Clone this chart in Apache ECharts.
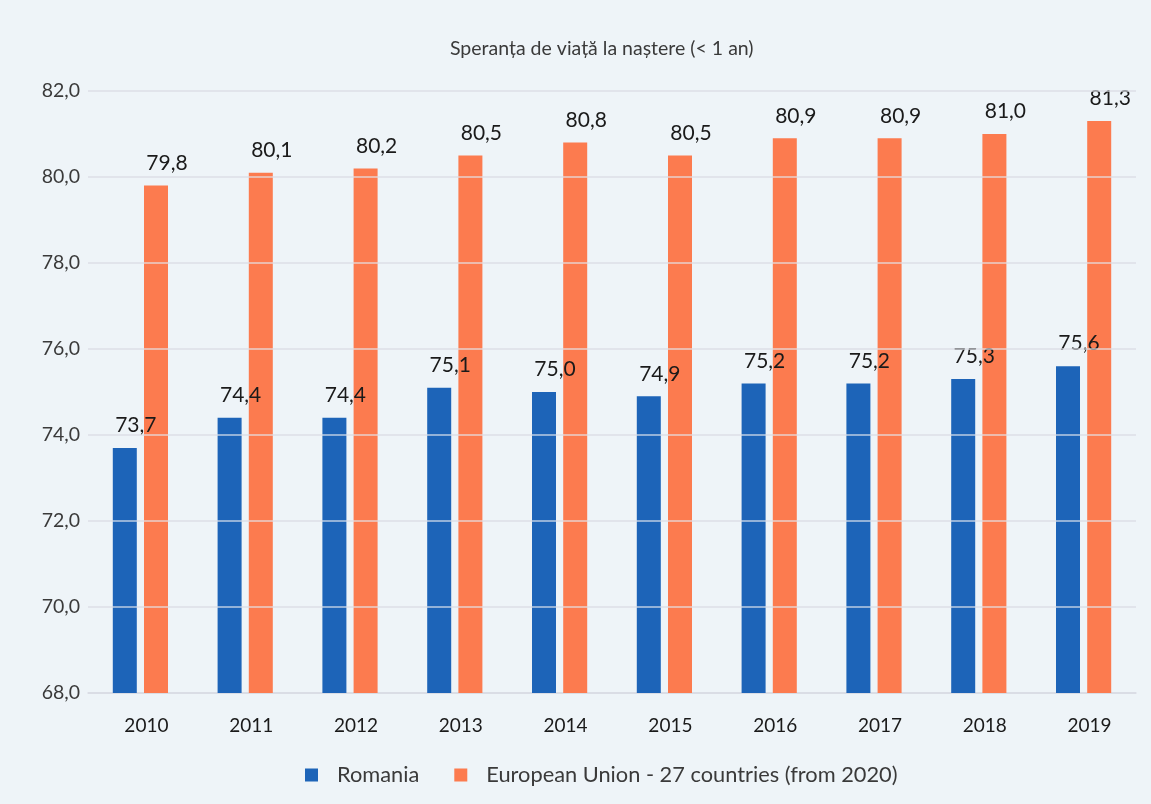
<!DOCTYPE html>
<html>
<head>
<meta charset="utf-8">
<script src="https://cdn.jsdelivr.net/npm/echarts@6/dist/echarts.min.js"></script>
<style>
  html, body { margin: 0; padding: 0; background: #eef4f8; }
  #chart { width: 1151px; height: 804px; }
</style>
</head>
<body>
<div id="chart"></div>
<script>
// Life expectancy at birth, Romania vs EU-27
const years = ['2010', '2011', '2012', '2013', '2014', '2015', '2016', '2017', '2018', '2019'];
const romania = [73.7, 74.4, 74.4, 75.1, 75.0, 74.9, 75.2, 75.2, 75.3, 75.6];
const eu27 = [79.8, 80.1, 80.2, 80.5, 80.8, 80.5, 80.9, 80.9, 81.0, 81.3];
const gridLevels = [70, 72, 74, 76, 78, 80, 82];

const fmt = v => v.toFixed(1).replace('.', ',');
const textColor = '#3a3a3a';
const fontFamily = 'Lato, "Open Sans", sans-serif';

const chart = echarts.init(document.getElementById('chart'), null, { renderer: 'canvas' });

const valueLabel = {
  show: true,
  position: 'top',
  distance: 12,
  offset: [11, 0],
  color: '#1a1a1a',
  fontSize: 21,
  fontFamily: fontFamily,
  formatter: p => fmt(p.value)
};

chart.setOption({
  backgroundColor: '#eef4f8',
  textStyle: { fontFamily: fontFamily },
  title: {
    text: 'Speranța de viață la naștere (< 1 an)',
    left: 445,
    top: 34,
    textStyle: { fontSize: 19.5, fontWeight: 'normal', color: textColor, fontFamily: fontFamily }
  },
  legend: {
    bottom: 13,
    left: 300,
    itemWidth: 13,
    itemHeight: 13,
    itemGap: 35,
    icon: 'rect',
    textStyle: { fontSize: 21.8, color: textColor, fontFamily: fontFamily, padding: [0, 0, 0, 14] },
    data: ['Romania', 'European Union - 27 countries (from 2020)']
  },
  grid: { left: 88, right: 15, top: 91, bottom: 111 },
  xAxis: {
    type: 'category',
    data: years,
    axisTick: { show: false },
    axisLine: { show: true, lineStyle: { color: '#d9dbe3', width: 1.5 } },
    axisLabel: { color: '#1a1a1a', fontSize: 19, margin: 23, fontFamily: fontFamily, padding: [0, 0, 0, 12] }
  },
  yAxis: {
    type: 'value',
    min: 68,
    max: 82,
    interval: 2,
    axisLine: { show: false },
    axisTick: { show: false },
    splitLine: { lineStyle: { color: '#d9dbe3', width: 1.5 } },
    axisLabel: { color: textColor, fontSize: 19.5, margin: 8, fontFamily: fontFamily, formatter: v => fmt(v) }
  },
  series: [
    {
      name: 'Romania',
      type: 'bar',
      data: romania,
      barWidth: 24,
      barGap: '30%',
      itemStyle: { color: '#1d64b8' },
      label: valueLabel
    },
    {
      name: 'European Union - 27 countries (from 2020)',
      type: 'bar',
      data: eu27,
      barWidth: 24,
      itemStyle: { color: '#fc7b4f' },
      label: valueLabel,
      // gridlines show faintly across the bars
      markLine: {
        silent: true,
        symbol: 'none',
        label: { show: false },
        lineStyle: { color: 'rgba(228,230,238,0.8)', type: 'solid', width: 1.5 },
        data: gridLevels.map(v => ({ yAxis: v }))
      }
    }
  ]
});
</script>
</body>
</html>
